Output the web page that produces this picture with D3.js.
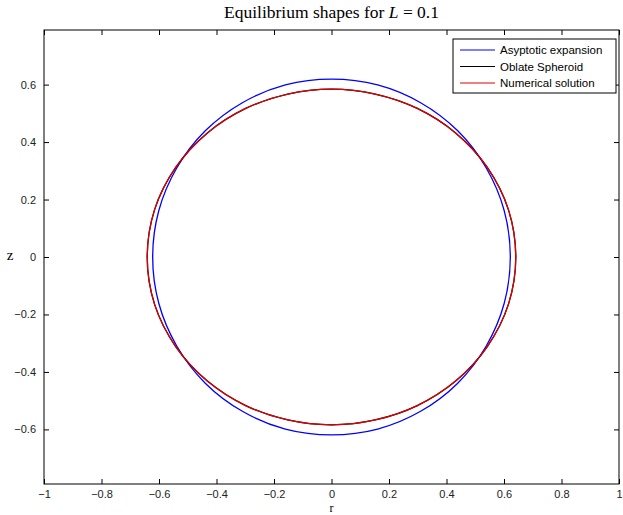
<!DOCTYPE html>
<html>
<head>
<meta charset="utf-8">
<script src="https://d3js.org/d3.v7.min.js"></script>
<style>
  body { margin: 0; background: #fff; }
  svg { display: block; }
</style>
</head>
<body>
<svg id="chart" width="623" height="515"></svg>
<script>
// quadrant samples: angle from the r axis (deg), radius
const angles = [0, 15, 30, 45, 60, 75, 90];
const asymptoticR = [0.622, 0.622, 0.621, 0.621, 0.620, 0.620, 0.619];
const spheroidR = [0.641, 0.637, 0.625, 0.6105, 0.597, 0.587, 0.584];
const numericalR = [0.641, 0.637, 0.625, 0.6105, 0.597, 0.587, 0.584];

const xTicks = [-1, -0.8, -0.6, -0.4, -0.2, 0, 0.2, 0.4, 0.6, 0.8, 1];
const yTicks = [-0.6, -0.4, -0.2, 0, 0.2, 0.4, 0.6];
const seriesNames = ["Asyptotic expansion", "Oblate Spheroid", "Numerical solution"];
const seriesColors = ["#0000ff", "#000000", "#dd0000"];

var margin = {top: 30, right: 4, bottom: 31, left: 44};
var width = 623 - margin.left - margin.right,
    height = 515 - margin.top - margin.bottom;

var svg = d3.select("#chart");
var chart = svg.append("g")
  .attr("transform", "translate(" + margin.left + "," + margin.top + ")");

var x = d3.scaleLinear().domain([-1, 1]).range([0, width]);
var y = d3.scaleLinear().domain([-0.79, 0.79]).range([height, 0]);

// mirror a quadrant into a closed outline
function outline(radii) {
  var pts = [];
  var quads = [[1, 1], [-1, 1], [-1, -1], [1, -1]];
  quads.forEach(function(q, k) {
    var idx = d3.range(angles.length - 1);
    if (k % 2 == 1) idx = idx.map(i => angles.length - 1 - i);
    idx.forEach(function(i) {
      var a = angles[i] * Math.PI / 180;
      pts.push([q[0] * radii[i] * Math.cos(a), q[1] * radii[i] * Math.sin(a)]);
    });
  });
  return pts;
}

var line = d3.line()
  .x(d => x(d[0]))
  .y(d => y(d[1]))
  .curve(d3.curveCatmullRomClosed);

var data = [asymptoticR, spheroidR, numericalR];
chart.selectAll("path.curve")
  .data(data)
  .enter()
  .append("path")
  .attr("class", "curve")
  .attr("d", d => line(outline(d)))
  .attr("fill", "none")
  .attr("stroke", (d, i) => seriesColors[i])
  .attr("stroke-width", 1.3);

// axes box with inward ticks on all sides
var tickLen = 5;
var axisFont = "Liberation Sans, Arial, sans-serif";
function fmt(v) { return v < 0 ? "\u2212" + d3.format("")(-v) : d3.format("")(v); }

chart.append("g")
  .attr("transform", "translate(0," + height + ")")
  .call(d3.axisBottom(x).tickValues(xTicks).tickSizeInner(-tickLen).tickSizeOuter(0).tickPadding(6).tickFormat(fmt));
chart.append("g")
  .call(d3.axisTop(x).tickValues(xTicks).tickSizeInner(-tickLen).tickSizeOuter(0).tickFormat(""));
chart.append("g")
  .call(d3.axisLeft(y).tickValues(yTicks).tickSizeInner(-tickLen).tickSizeOuter(0).tickPadding(8).tickFormat(fmt));
chart.append("g")
  .attr("transform", "translate(" + width + ",0)")
  .call(d3.axisRight(y).tickValues(yTicks).tickSizeInner(-tickLen).tickSizeOuter(0).tickFormat(""));

chart.selectAll(".domain").remove();
chart.selectAll(".tick line").attr("stroke", "#000");
chart.selectAll(".tick text")
  .style("font-family", axisFont)
  .style("font-size", "11px")
  .attr("fill", "#222");

chart.append("rect")
  .attr("width", width)
  .attr("height", height)
  .attr("fill", "none")
  .attr("stroke", "#000")
  .attr("stroke-width", 1);

// title and labels
var serif = "Liberation Serif, Times New Roman, serif";
var title = svg.append("text")
  .attr("x", margin.left + width / 2)
  .attr("y", 18)
  .attr("text-anchor", "middle")
  .style("font-family", serif)
  .style("font-size", "17.5px");
title.append("tspan").text("Equilibrium shapes for ");
title.append("tspan").style("font-style", "italic").text("L");
title.append("tspan").text(" = 0.1");

svg.append("text")
  .attr("x", margin.left + width / 2)
  .attr("y", 512)
  .attr("text-anchor", "middle")
  .style("font-family", serif)
  .style("font-size", "12px")
  .text("r");

svg.append("text")
  .attr("x", 10)
  .attr("y", 260)
  .attr("text-anchor", "middle")
  .style("font-family", serif)
  .style("font-size", "15px")
  .text("z");

// legend
var legend = svg.append("g").attr("transform", "translate(453,39)");
legend.append("rect")
  .attr("width", 163)
  .attr("height", 54)
  .attr("fill", "#fff")
  .attr("stroke", "#000");
var rows = legend.selectAll("g.row")
  .data(seriesNames)
  .enter()
  .append("g")
  .attr("class", "row")
  .attr("transform", (d, i) => "translate(0," + (11 + i * 16.5) + ")");
rows.append("line")
  .attr("x1", 7).attr("x2", 42)
  .attr("stroke", (d, i) => seriesColors[i])
  .attr("stroke-width", 1);
rows.append("text")
  .attr("x", 47)
  .attr("y", 4)
  .style("font-family", axisFont)
  .style("font-size", "11.5px")
  .text(d => d);
</script>
</body>
</html>
